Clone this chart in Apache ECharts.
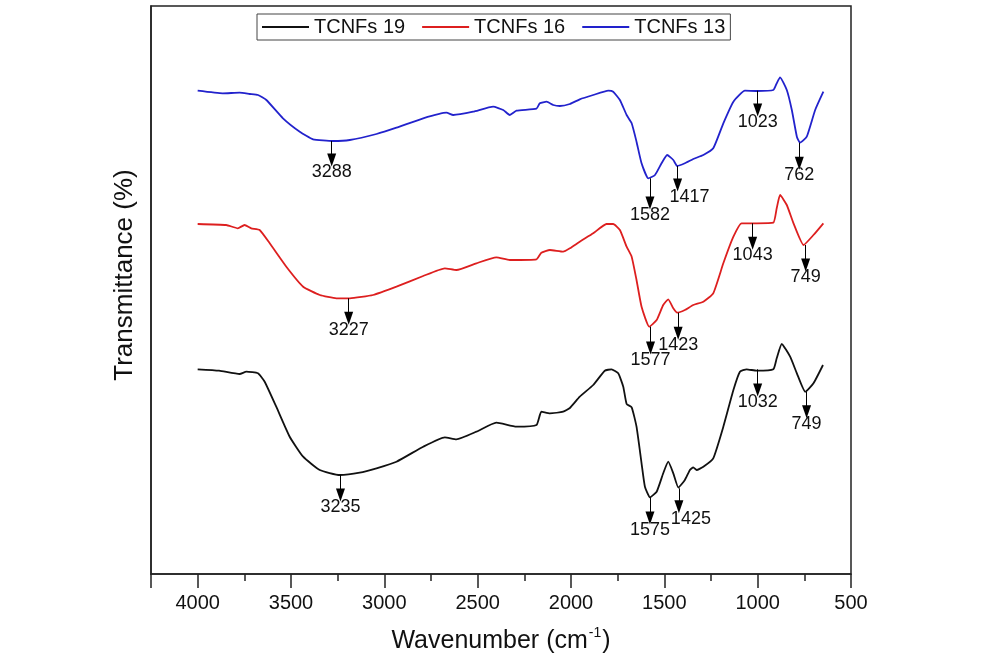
<!DOCTYPE html>
<html>
<head>
<meta charset="utf-8">
<script src="https://cdn.jsdelivr.net/npm/echarts@6/dist/echarts.min.js"></script>
<style>html,body{margin:0;padding:0;background:#fff;}#c{width:984px;height:661px;}</style>
</head>
<body>
<div id="c"></div>
<script>
// ---- data (wavenumber in cm-1, transmittance in arbitrary offset units) ----
var seriesNames = ['TCNFs 19', 'TCNFs 16', 'TCNFs 13'];

var t19Wn = [4000,3885,3775,3739,3677,3641,3579,3507,3435,3346,3239,3132,3042,2935,2792,2676,2614,2507,2400,2292,2185,2159,2113,2042,2006,1953,1881,1819,1783,1747,1720,1702,1675,1649,1622,1604,1577,1541,1506,1479,1452,1425,1390,1363,1345,1327,1291,1238,1184,1130,1095,1059,1005,916,898,871,826,790,745,701,650];
var t19T  = [204.7,203.3,200,202.3,200.7,192.3,167.3,137.3,117.3,104,99,101.3,105.7,112.3,127.3,136.7,134.7,142.3,151.3,147.3,149,162.3,160.7,162.3,166,177.3,189,203.3,204.7,200.7,187.3,170,166.7,147.3,110.7,87.3,76.7,82.3,100.7,112.3,100.7,86.5,94,104,106.7,104,107.3,115.7,147.3,184,202.3,204.7,203.3,204.7,215.7,230,217.3,200.7,182.3,190.7,209];

var t16Wn = [4000,3847,3785,3749,3713,3668,3614,3525,3435,3346,3257,3185,3060,2935,2792,2676,2614,2507,2400,2328,2185,2159,2113,2042,2006,1953,1881,1810,1774,1738,1702,1675,1649,1622,1581,1541,1506,1479,1452,1431,1390,1345,1291,1238,1184,1130,1086,1005,916,898,880,844,808,754,701,648];
var t16T  = [350,349,345.7,349,345.7,344,330.7,307.3,287.3,279,275.7,275.7,279,287.3,298,305.7,304,310.7,316.7,314,314.7,321.3,324,322.3,325.7,332.3,340.7,350,350,344,327.3,317.3,294,267.3,247.3,254,269,274.7,265.7,261.3,264,269,272.3,280.7,310.7,337.3,350.7,350.7,351.3,365.7,379,369,350.7,329,339,350.7];

var t13Wn = [4000,3866,3775,3721,3677,3632,3543,3453,3382,3275,3185,3042,2935,2792,2667,2631,2524,2417,2363,2328,2292,2185,2167,2131,2095,2060,2006,1953,1881,1800,1774,1738,1702,1675,1649,1622,1586,1550,1515,1485,1452,1431,1390,1345,1291,1238,1184,1130,1068,1005,916,898,880,844,817,790,773,737,692,648];
var t13T  = [483.3,480.7,481.3,480,479,474,455.7,442.3,434.7,433,434,440,446.3,455.7,461.3,459,462.3,467.3,464,459,463.3,465.3,470.7,472.3,469,468,470,474.7,479,483.3,482.3,474,459,450.7,432.3,410.7,395.7,399,410.7,419,414,408,410.7,415,419,425.7,450.7,472.3,483.3,483,484,490.7,496.7,484,464,437.3,431.3,437.3,464,482.3];

// peak annotations: label, arrow wavenumber, arrow start (on curve), arrow tip
var t19PeakText = ['3235','1575','1425','1032','749'];
var t19PeakWn   = [3235,1577,1422,1000,738];
var t19PeakFrom = [99,76.7,85.7,204.7,182.3];
var t19PeakTo   = [79,56,67.3,184,162.3];

var t16PeakText = ['3227','1577','1423','1043','749'];
var t16PeakWn   = [3191,1574,1426,1027,743];
var t16PeakFrom = [275.7,247.3,261.3,350.7,329];
var t16PeakTo   = [255.7,226,240.7,330.7,309];

var t13PeakText = ['3288','1582','1417','1023','762'];
var t13PeakWn   = [3282,1577,1429,1000,777];
var t13PeakFrom = [433,395.7,408,483.3,431.3];
var t13PeakTo   = [414,371,389,464,410.7];

var colors = ['#111111', '#dd1f1f', '#2222cc'];

// ---- build ----
// labels that sit to the right of their arrow in the original figure
var labelNudge = { '1417': 12, '1425': 12 };
function zip(a, b) { return a.map(function (v, i) { return [v, b[i]]; }); }
function peaks(txt, wn, from, to) {
  return txt.map(function (t, i) {
    var lab = { formatter: t };
    if (labelNudge[t]) lab.offset = [labelNudge[t], 0];
    return [{ coord: [wn[i], from[i]] }, { coord: [wn[i], to[i]], label: lab }];
  });
}
var FONT = '"Liberation Sans", Arial, sans-serif';
function mkSeries(name, wn, t, color, pk) {
  return {
    name: name, type: 'line', data: zip(wn, t), xAxisIndex: 0,
    symbol: 'none', showSymbol: false, smooth: 0.15, color: color,
    lineStyle: { color: color, width: 1.8 },
    silent: true, animation: false,
    markLine: {
      silent: true, animation: false,
      symbol: ['none', 'triangle'], symbolSize: [9, 13],
      lineStyle: { color: '#000', width: 1, type: 'solid' },
      label: { show: true, position: 'end', distance: 3, color: '#111', fontSize: 18, fontFamily: FONT },
      data: pk
    }
  };
}

var chart = echarts.init(document.getElementById('c'), null, { renderer: 'canvas' });
chart.setOption({
  animation: false,
  backgroundColor: '#ffffff',
  textStyle: { fontFamily: FONT },
  grid: { left: 151, right: 133, top: 6, bottom: 87, show: true, borderColor: '#222', borderWidth: 1.5, containLabel: false },
  legend: {
    left: 257, top: 14, orient: 'horizontal',
    data: seriesNames,
    icon: 'rect',
    itemWidth: 47, itemHeight: 2, itemGap: 17,
    padding: [3, 5, 3, 5],
    borderColor: '#444', borderWidth: 1,
    textStyle: { fontSize: 20, color: '#111', fontFamily: FONT }
  },
  xAxis: [{
    type: 'value', position: 'bottom', inverse: true, min: 500, max: 4250, interval: 500,
    axisLine: { show: true, lineStyle: { color: '#222', width: 1.5 } },
    axisTick: { show: true, inside: false, length: 14, lineStyle: { color: '#222', width: 1.5 } },
    axisLabel: {
      show: true, margin: 19, fontSize: 20, color: '#111', fontFamily: FONT,
      formatter: function (v) { return v % 500 === 0 ? String(v) : ''; }
    },
    splitLine: { show: false },
    name: '{a|Wavenumber (cm}{b|-1}{a|)}',
    nameLocation: 'middle', nameGap: 52,
    nameTextStyle: {
      rich: {
        a: { fontSize: 25, color: '#111', fontFamily: FONT, lineHeight: 28, verticalAlign: 'bottom' },
        b: { fontSize: 14, color: '#111', fontFamily: FONT, lineHeight: 28, verticalAlign: 'top', padding: [0, 1, 12, 1] }
      }
    }
  }, {
    type: 'value', position: 'bottom', offset: 0, inverse: true, min: 500, max: 4250, interval: 250,
    axisLine: { show: false },
    axisTick: { show: true, inside: false, length: 7, lineStyle: { color: '#222', width: 1.5 } },
    axisLabel: { show: false },
    splitLine: { show: false }
  }],
  yAxis: {
    type: 'value', min: 0, max: 568,
    axisLine: { show: true, lineStyle: { color: '#222', width: 1.5 } },
    axisTick: { show: false }, axisLabel: { show: false }, splitLine: { show: false },
    name: 'Transmittance (%)', nameLocation: 'middle', nameGap: 13,
    nameTextStyle: { fontSize: 26, color: '#111', fontFamily: FONT, padding: [0, 0, 0, 30] }
  },
  series: [
    mkSeries(seriesNames[0], t19Wn, t19T, colors[0], peaks(t19PeakText, t19PeakWn, t19PeakFrom, t19PeakTo)),
    mkSeries(seriesNames[1], t16Wn, t16T, colors[1], peaks(t16PeakText, t16PeakWn, t16PeakFrom, t16PeakTo)),
    mkSeries(seriesNames[2], t13Wn, t13T, colors[2], peaks(t13PeakText, t13PeakWn, t13PeakFrom, t13PeakTo))
  ]
});
</script>
</body>
</html>
